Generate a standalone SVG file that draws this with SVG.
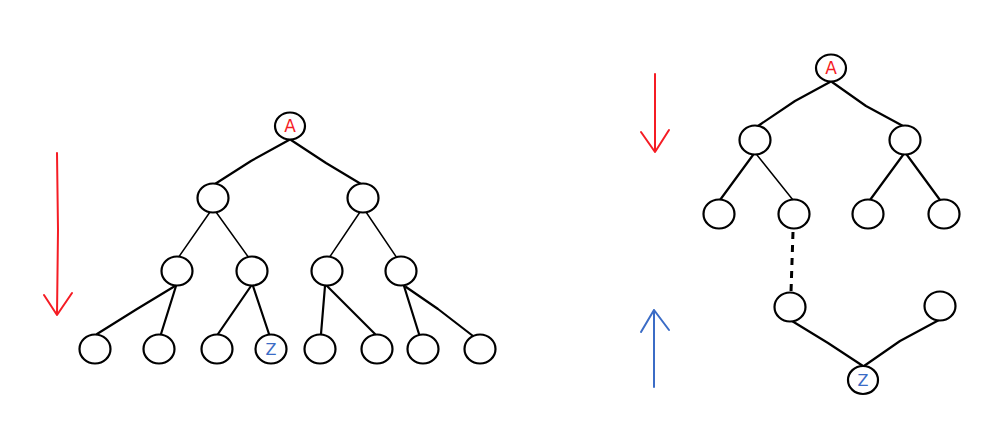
<svg xmlns="http://www.w3.org/2000/svg" width="1004" height="437" viewBox="0 0 1004 437">
<style>
.n{fill:#fff;stroke:#000;stroke-width:2.2}
.e{fill:none;stroke:#000;stroke-width:2.2;stroke-linecap:round;stroke-linejoin:round}
.t{fill:none;stroke:#000;stroke-width:1.5;stroke-linecap:round}
.d{fill:none;stroke:#000;stroke-width:3;stroke-dasharray:7 6}
.ar{fill:none;stroke:#f51c24;stroke-width:2;stroke-linecap:round;stroke-linejoin:round}
.ab{fill:none;stroke:#3b6cc6;stroke-width:2;stroke-linecap:round;stroke-linejoin:round}
.la{font-family:"DejaVu Sans",sans-serif;font-size:17px;fill:#f51c24;text-anchor:middle}
.lz{font-family:"DejaVu Sans",sans-serif;font-size:16px;fill:#3b6cc6;text-anchor:middle}
</style>
<rect width="1004" height="437" fill="#fff"/>
<g id="connectors">
<path class="e" d="M289,140 L251,161 L215,184"/>
<path class="e" d="M291,140 L326,163 L361,184"/>
<path class="t" d="M210,212 L178,258"/>
<path class="t" d="M216,212 L249,258"/>
<path class="t" d="M360,212 L329,258"/>
<path class="t" d="M366,212 L397,258"/>
<path class="e" d="M175,286 L137,309 L97,334"/>
<path class="e" d="M176,286 L161,334"/>
<path class="e" d="M251,286 L218,334"/>
<path class="e" d="M253,286 L269,334"/>
<path class="e" d="M325,286 L321,334"/>
<path class="e" d="M327,286 L375,334"/>
<path class="e" d="M404,286 L419,334"/>
<path class="e" d="M406,287 L438,309 L473,336"/>
<path class="e" d="M830,82 L795,101 L758,126"/>
<path class="e" d="M832,82 L866,106 L903,126"/>
<path class="e" d="M753,155 L720,200"/>
<path class="t" d="M757,155 L793,200"/>
<path class="e" d="M903,155 L870,200"/>
<path class="e" d="M907,155 L940,200"/>
<path class="d" d="M793,232 L791,292"/>
<path class="e" d="M792,321 L828,343 L863,366"/>
<path class="e" d="M939,320 L900,341 L864,366"/>
</g>
<g id="arrows">
<path class="ar" d="M57,153 L58,230 L57,315 M44,295 L57,315 L72,293"/>
<path class="ar" d="M655,74 L655,152 M641,132 L655,152 L669,130"/>
<path class="ab" d="M654,387 L654,310 M641,332 L654,310 L669,330"/>
</g>
<g id="left-tree">
<g id="lA"><ellipse class="n" cx="290" cy="126" rx="15" ry="13.5"/><text class="la" x="290" y="132">A</text></g>
<g id="l1a"><ellipse class="n" cx="213" cy="198" rx="15.5" ry="14.5"/></g>
<g id="l1b"><ellipse class="n" cx="363" cy="198" rx="15.5" ry="14.5"/></g>
<g id="l2a"><ellipse class="n" cx="177" cy="271" rx="15.5" ry="14.5"/></g>
<g id="l2b"><ellipse class="n" cx="252" cy="271" rx="15.5" ry="14.5"/></g>
<g id="l2c"><ellipse class="n" cx="327" cy="271" rx="15.5" ry="14.5"/></g>
<g id="l2d"><ellipse class="n" cx="401" cy="271" rx="15.5" ry="14.5"/></g>
<g id="l3a"><ellipse class="n" cx="95" cy="349" rx="15.5" ry="14.5"/></g>
<g id="l3b"><ellipse class="n" cx="159" cy="349" rx="15.5" ry="14.5"/></g>
<g id="l3c"><ellipse class="n" cx="217" cy="349" rx="15.5" ry="14.5"/></g>
<g id="lZ"><ellipse class="n" cx="271" cy="349" rx="15.5" ry="14.5"/><text class="lz" x="271" y="355">Z</text></g>
<g id="l3e"><ellipse class="n" cx="320" cy="349" rx="15.5" ry="14.5"/></g>
<g id="l3f"><ellipse class="n" cx="377" cy="349" rx="15.5" ry="14.5"/></g>
<g id="l3g"><ellipse class="n" cx="423" cy="349" rx="15.5" ry="14.5"/></g>
<g id="l3h"><ellipse class="n" cx="480" cy="349" rx="15.5" ry="14.5"/></g>
</g>
<g id="right-tree">
<g id="rA"><ellipse class="n" cx="831" cy="68" rx="15" ry="13.5"/><text class="la" x="831" y="74">A</text></g>
<g id="r1a"><ellipse class="n" cx="755" cy="140" rx="15.5" ry="14.5"/></g>
<g id="r1b"><ellipse class="n" cx="905" cy="140" rx="15.5" ry="14.5"/></g>
<g id="r2a"><ellipse class="n" cx="719" cy="214" rx="15.5" ry="14.5"/></g>
<g id="r2b"><ellipse class="n" cx="794" cy="214" rx="15.5" ry="14.5"/></g>
<g id="r2c"><ellipse class="n" cx="868" cy="214" rx="15.5" ry="14.5"/></g>
<g id="r2d"><ellipse class="n" cx="944" cy="214" rx="15.5" ry="14.5"/></g>
<g id="r3a"><ellipse class="n" cx="790" cy="307" rx="15.5" ry="14.5"/></g>
<g id="r3b"><ellipse class="n" cx="940" cy="306" rx="15.5" ry="14.5"/></g>
<g id="rZ"><ellipse class="n" cx="863" cy="380" rx="15" ry="14"/><text class="lz" x="863" y="386">Z</text></g>
</g>
</svg>
